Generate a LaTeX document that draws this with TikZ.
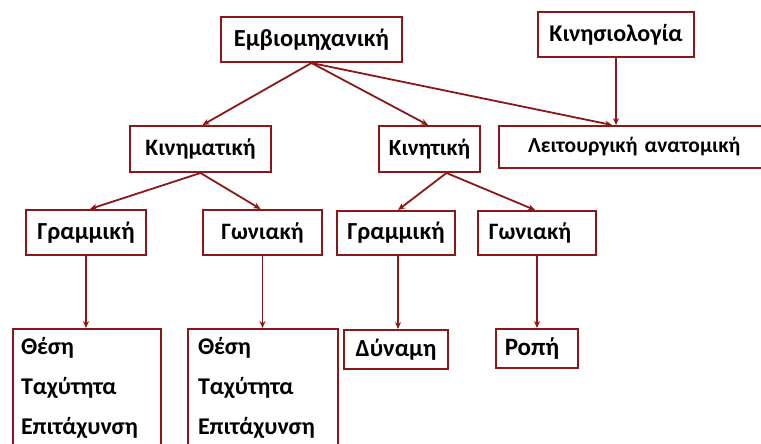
\documentclass[tikz,border=0pt]{standalone}
\usepackage{fontspec}
\setmainfont{Carlito}
\usetikzlibrary{arrows.meta,calc}
\definecolor{dred}{RGB}{139,24,24}
\newcommand{\fs}[1]{\bfseries\fontsize{#1}{#1}\selectfont}
\tikzset{
  box/.style={draw=dred, line width=2pt, fill=white, inner sep=0pt, font=\fs{23}, text=black},
  listbox/.style={box, anchor=west, minimum height=117pt, align=left, font=\bfseries\fontsize{24}{40}\selectfont},
  conn/.style={draw=dred, line width=1.8pt, -{Stealth[length=7pt,width=6pt]}},
}
\begin{document}
\begin{tikzpicture}[x=1pt,y=-1pt]
\useasboundingbox (0,0) rectangle (761,444);
\clip (0,0) rectangle (761,444);
\node[box, minimum width=181pt, minimum height=45pt, font=\fs{24.5}] (emb) at (311.5,39.5) {Εμβιομηχανική};
\node[box, minimum width=156pt, minimum height=45pt, font=\fs{24}] (kins) at (616,34.5) {Κινησιολογία};
\node[box, anchor=north west, minimum width=290pt, minimum height=42pt, text width=290pt, align=left, font=\fs{21.5}] (lei) at (498,125) {\hspace*{29pt}Λειτουργική ανατομική};
\node[box, minimum width=141pt, minimum height=46pt, font=\fs{23.5}] (kinm) at (200.5,149) {Κινηματική};
\node[box, minimum width=101pt, minimum height=46pt] (kint) at (429.5,149) {Κινητική};
\node[box, minimum width=120pt, minimum height=45pt, font=\fs{24.5}] (g1) at (86,232.5) {Γραμμική};
\node[box, minimum width=119pt, minimum height=45pt, font=\fs{23.5}] (w1) at (262.5,232.5) {Γωνιακή};
\node[box, minimum width=118pt, minimum height=44pt, font=\fs{24.5}] (g2) at (396,233) {Γραμμική};
\node[box, minimum width=118pt, minimum height=44pt, font=\fs{23.5}] (w2) at (537,233) {Γωνιακή\hspace*{14pt}};
\node[box, minimum width=104pt, minimum height=39pt, font=\fs{24.5}] (dyn) at (396,349.5) {Δύναμη};
\node[box, minimum width=82pt, minimum height=39pt, font=\fs{25}] (rop) at (537,348.5) {Ροπή\hspace*{10pt}};
\node[listbox, text width=132pt, inner xsep=8pt] (l1) at (12,387.5) {Θέση\\Ταχύτητα\\Επιτάχυνση};
\node[listbox, text width=130pt, inner xsep=10pt] (l2) at (187,387.5) {Θέση\\Ταχύτητα\\Επιτάχυνση};
\draw[conn] (emb.south) -- ([xshift=2pt]kinm.north);
\draw[conn] (emb.south) -- ([xshift=-1.5pt]kint.north);
\draw[conn] (emb.south) -- ([xshift=114pt]lei.north west);
\draw[conn] (kins.south) -- (kins.south |- lei.north);
\draw[conn] (kinm.south) -- ([xshift=4pt]g1.north);
\draw[conn] (kinm.south) -- ([xshift=-2pt]w1.north);
\draw[conn] ([xshift=17pt]kint.south) -- ([xshift=2pt]g2.north);
\draw[conn] ([xshift=17pt]kint.south) -- ([xshift=-2pt]w2.north);
\draw[conn] (g1.south) -- (g1.south |- l1.north);
\draw[conn] (w1.south) -- (w1.south |- l2.north);
\draw[conn] ([xshift=2pt]g2.south) -- ([xshift=2pt]g2.south |- dyn.north);
\draw[conn] (w2.south) -- (w2.south |- rop.north);
\end{tikzpicture}
\end{document}
